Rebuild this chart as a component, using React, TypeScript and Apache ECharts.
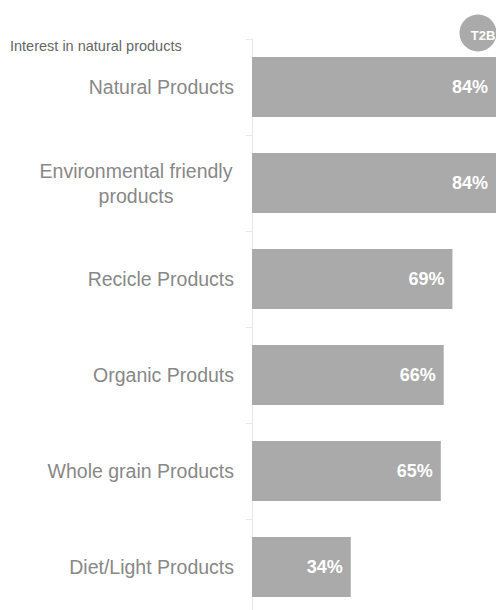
import React, { useEffect, useRef } from "react";
import * as echarts from "echarts";

const categories = [
  "Natural Products",
  "Environmental friendly\nproducts",
  "Recicle Products",
  "Organic Produts",
  "Whole grain Products",
  "Diet/Light Products",
];
const values = [84, 84, 69, 66, 65, 34];
const title = "Interest in natural products";
const badge = "T2B";

export default function App() {
  const ref = useRef<HTMLDivElement>(null);
  useEffect(() => {
    if (!ref.current) return;
    const chart = echarts.init(ref.current, undefined, { renderer: "svg" });
    const font = "Liberation Sans, Arial, Helvetica, sans-serif";
    chart.setOption({
      animation: false,
      backgroundColor: "#ffffff",
      grid: { left: 252, right: 0, top: 39, height: 576, outerBoundsMode: "none", containLabel: false },
      xAxis: { type: "value", min: 0, max: 84, show: false },
      yAxis: {
        type: "category",
        inverse: true,
        data: categories,
        axisLine: { show: true, lineStyle: { color: "#e8e8e8", width: 1 } },
        axisTick: { show: true, length: 6, lineStyle: { color: "#e8e8e8" } },
        axisLabel: {
          margin: 18,
          color: "#888888",
          fontSize: 19.5,
          fontFamily: font,
          lineHeight: 25,
          formatter: (v: string) =>
            v.indexOf("\n") >= 0
              ? v
                  .split("\n")
                  .map((s) => "{c|" + s + "}")
                  .join("\n")
              : v,
          rich: {
            c: {
              width: 196,
              align: "center",
              color: "#888888",
              fontSize: 19.5,
              fontFamily: font,
              lineHeight: 25,
            },
          },
        },
      },
      series: [
        {
          type: "bar",
          data: values,
          barWidth: 60,
          itemStyle: { color: "#aaaaaa" },
          label: {
            show: true,
            position: "insideRight",
            distance: 8,
            color: "#ffffff",
            fontWeight: "bold",
            fontSize: 18,
            fontFamily: font,
            formatter: "{c}%",
          },
        },
      ],
      graphic: [
        {
          type: "text",
          left: 10,
          top: 38,
          style: {
            text: title,
            fill: "#666666",
            fontSize: 14.5,
            fontFamily: font,
          },
        },
        {
          type: "circle",
          shape: { cx: 478, cy: 33, r: 18.5 },
          style: { fill: "#aaaaaa" },
        },
        {
          type: "text",
          x: 483,
          y: 35,
          style: {
            text: badge,
            fill: "#ffffff",
            fontWeight: "bold",
            fontSize: 13,
            fontFamily: font,
            align: "center",
            verticalAlign: "middle",
          },
        },
      ],
    });
    return () => chart.dispose();
  }, []);
  return (
    <div
      ref={ref}
      style={{ position: "fixed", left: 0, top: 0, width: 496, height: 610 }}
    />
  );
}
